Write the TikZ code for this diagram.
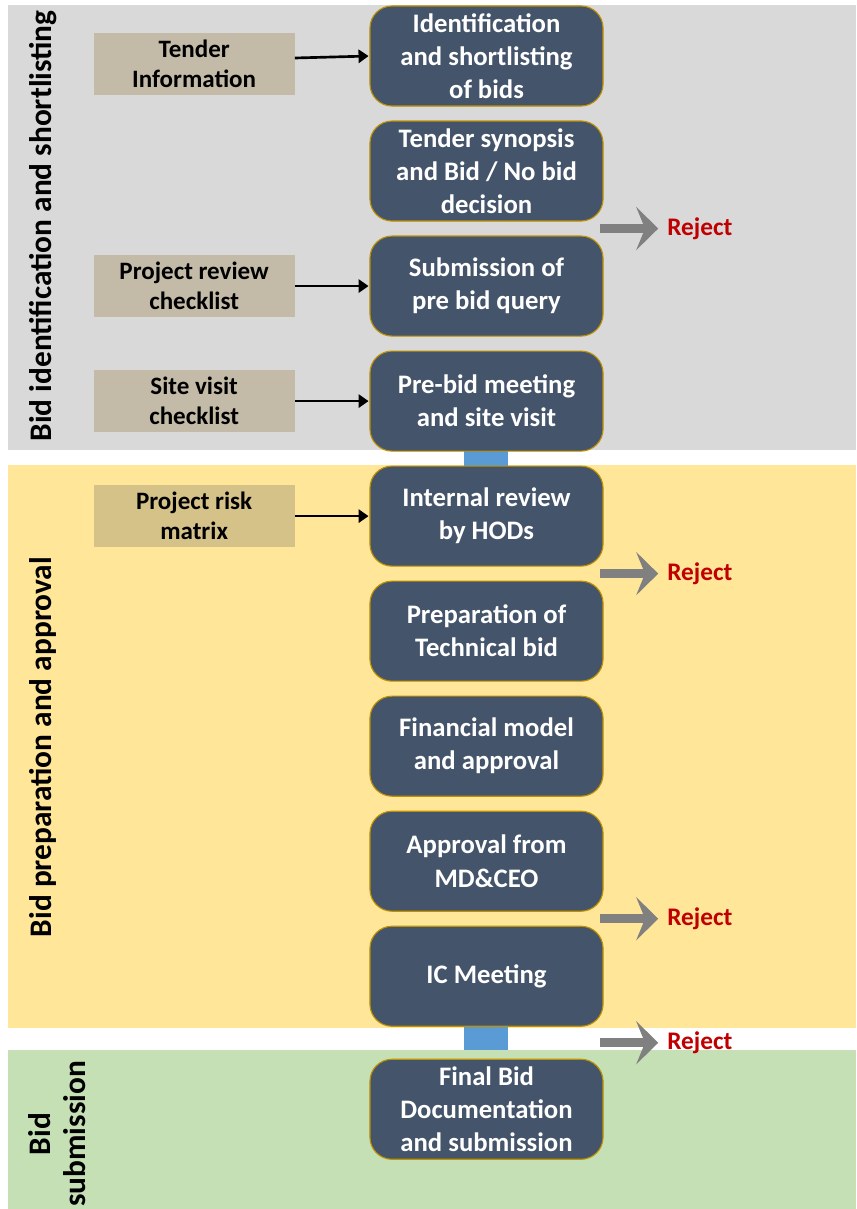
\documentclass[tikz,border=0pt]{standalone}
\usepackage{fontspec}
\setmainfont{Carlito}
\usepackage{xcolor}
\usepackage{tikz}
\usetikzlibrary{shapes, arrows.meta, positioning, calc}

\definecolor{boxslate}{HTML}{44546A}
\definecolor{boxgold}{HTML}{BF9000}
\definecolor{bandgray}{HTML}{D9D9D9}
\definecolor{bandyellow}{HTML}{FFE699}
\definecolor{bandgreen}{HTML}{C5E0B4}
\definecolor{cardtan}{HTML}{B1A27C}
\definecolor{linkblue}{HTML}{5B9BD5}
\definecolor{arrowgray}{HTML}{808080}
\definecolor{rejectred}{HTML}{C00000}

\begin{document}
\begin{tikzpicture}[x=0.025cm, y=-0.025cm, node distance=0.375cm,
  stage/.style={draw=boxgold, line width=0.8pt, fill=boxslate, rounded corners=0.55cm, text=white, font=\bfseries\fontsize{19}{23.5}\selectfont, align=center, minimum width=5.825cm, minimum height=2.5cm, inner sep=2pt, outer sep=0pt},
  card/.style={fill=cardtan, fill opacity=0.53, text opacity=1, text=black, font=\bfseries\fontsize{17.8}{21.3}\selectfont, align=center, minimum width=5.025cm, minimum height=1.55cm},
  phase/.style={rotate=90, font=\bfseries\fontsize{22.3}{25}\selectfont, align=center},
  feed/.style={-{Triangle[length=0.25cm, width=0.33cm]}, line width=1.9pt, shorten >=1pt},
  rejectarrow/.style={-{Stealth[length=0.55cm, width=1.075cm, inset=0.22cm]}, line width=0.225cm, draw=arrowgray},
  reject/.style={text=rejectred, font=\bfseries\fontsize{18}{21}\selectfont, inner sep=0pt}]
\useasboundingbox (0,0) rectangle (856,1209);

\fill[bandgray] (8,5) rectangle (856,450);
\fill[bandyellow] (8,465) rectangle (856,1028);
\fill[bandgreen] (8,1050) rectangle (856,1209);
\fill[linkblue] (464,449) rectangle (508,466);
\fill[linkblue] (464,1027) rectangle (508,1050);

\node[phase] (phase1) at (43,226) {Bid identification and shortlisting};
\node[phase] (phase2) at (43,747) {Bid preparation and approval};
\node[phase] (phase3) at (57,1134) {Bid\\submission};

\node[stage] (ident) at (486.5,56) {Identification\\and shortlisting\\of bids};
\node[stage, below=of ident] (synopsis) {Tender synopsis\\and Bid / No bid\\decision};
\node[stage, below=of synopsis] (prequery) {Submission of\\pre bid query};
\node[stage, below=of prequery] (prebid) {Pre-bid meeting\\and site visit};
\node[stage, below=of prebid] (hodreview) {Internal review\\by HODs};
\node[stage, below=of hodreview] (techbid) {Preparation of\\Technical bid};
\node[stage, below=of techbid] (finmodel) {Financial model\\and approval};
\node[stage, below=of finmodel] (mdceo) {Approval from\\MD\&CEO};
\node[stage, below=of mdceo] (icmeet) {IC Meeting};
\node[stage, below=0.825cm of icmeet] (finalbid) {Final Bid\\Documentation\\and submission};

\node[card, left=1.875cm of ident, yshift=-0.19cm] (tenderinfo) {Tender\\Information};
\node[card, left=1.875cm of prequery] (reviewlist) {Project review\\checklist};
\node[card, left=1.875cm of prebid] (sitelist) {Site visit\\checklist};
\node[card, left=1.875cm of hodreview] (riskmatrix) {Project risk\\matrix};

\draw[feed] ([yshift=0.14cm]tenderinfo.east) -- (ident.west);
\draw[feed] (reviewlist) -- (prequery);
\draw[feed] (sitelist) -- (prebid);
\draw[feed] (riskmatrix) -- (hodreview);

\coordinate (cut1) at ($(synopsis.south east)!0.5!(prequery.north east)$);
\coordinate (cut2) at ($(hodreview.south east)!0.5!(techbid.north east)$);
\coordinate (cut3) at ($(mdceo.south east)!0.5!(icmeet.north east)$);
\coordinate (cut4) at ($(icmeet.south east)!0.5!(finalbid.north east)$);

\node[reject, right=1.6cm of cut1] (rej1) {Reject};
\node[reject, right=1.6cm of cut2] (rej2) {Reject};
\node[reject, right=1.6cm of cut3] (rej3) {Reject};
\node[reject, right=1.6cm of cut4] (rej4) {Reject};

\draw[rejectarrow] ([xshift=-0.08cm]cut1) -- ([xshift=-0.22cm]rej1.west);
\draw[rejectarrow] ([xshift=-0.08cm]cut2) -- ([xshift=-0.22cm]rej2.west);
\draw[rejectarrow] ([xshift=-0.08cm]cut3) -- ([xshift=-0.22cm]rej3.west);
\draw[rejectarrow] ([xshift=-0.08cm]cut4) -- ([xshift=-0.22cm]rej4.west);
\end{tikzpicture}
\end{document}
